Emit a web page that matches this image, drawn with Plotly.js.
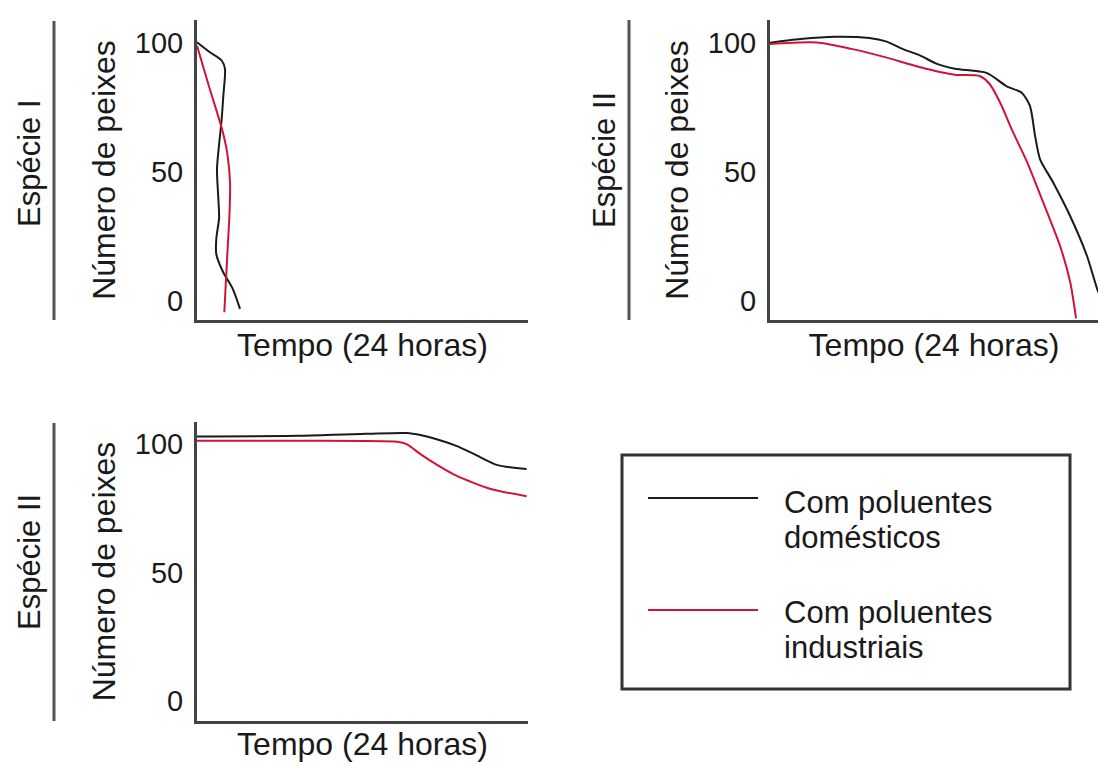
<!DOCTYPE html>
<html>
<head>
<meta charset="utf-8">
<script src="https://cdn.plot.ly/plotly-3.0.1.min.js"></script>
<style>
  html, body { margin: 0; padding: 0; background: #ffffff; }
  #chart { width: 1098px; height: 762px; }
</style>
</head>
<body>
<div id="chart"></div>
<script>
// ---------- data ----------
const seriesNames = ['Com poluentes<br>domésticos', 'Com poluentes<br>industriais'];
const speciesLabels = ['Espécie I', 'Espécie II', 'Espécie II'];
const xAxisTitle = 'Tempo (24 horas)';
const yAxisTitle = 'Número de peixes';
const yTickVals = [0, 50, 100];
const yTickText = ['0', '50', '100'];

// Espécie I (top left)
const esp1DomHours = [0, 0.94, 1.79, 2.03, 1.91, 1.79, 1.45, 1.55, 1.6, 1.4, 1.4, 1.9, 2.6, 3.12];
const esp1DomFish  = [100.2, 96.3, 93.1, 89.8, 79.5, 70.4, 51.1, 39.4, 32, 24, 18, 11, 4.5, -3.2];
const esp1IndHours = [0, 0.9, 1.81, 2.2, 2.4, 2.35, 2.2, 1.98];
const esp1IndFish  = [98.8, 82.5, 66.6, 57, 45, 33, 18, -4.5];

// Espécie II (top right)
const esp2aDomHours = [0, 2.2, 4.7, 7.2, 8.4, 9.6, 10.9, 12.1, 13.4, 15.7, 17.16, 18.25, 18.85, 19.22, 19.58, 20.52, 21.75, 22.97, 23.79, 24.3];
const esp2aDomFish  = [100, 101.4, 102.3, 101.8, 100.5, 97.6, 95, 91.8, 89.9, 88.3, 83.1, 80.6, 75.4, 63.8, 54.8, 45.9, 32.9, 17.5, 3.5, -2];
const esp2aIndHours = [0, 3.4, 5.9, 8.4, 10.9, 13.4, 15.23, 15.95, 16.68, 17.62, 18.64, 19.8, 21.03, 21.76, 22.19];
const esp2aIndFish  = [99.5, 100.1, 97.6, 94.3, 90.5, 87.6, 87.0, 83.8, 76.8, 65.3, 53.7, 38.2, 21.2, 7.3, -6.9];

// Espécie II (bottom left)
const esp2bDomHours = [0, 7.3, 11.2, 15.2, 16.2, 17.5, 18.8, 20.1, 21.8, 23.9];
const esp2bDomFish  = [103, 103.2, 103.8, 104.3, 103.5, 101.7, 99.3, 96.1, 91.8, 90.3];
const esp2bIndHours = [0, 7.3, 14.5, 15.2, 16.2, 17.5, 18.8, 21.3, 23.9];
const esp2bIndFish  = [101.3, 101.3, 100.9, 100, 96.1, 91.6, 87.7, 82.5, 79.7];

// ---------- styles ----------
const W = 1098, H = 762;
const domColor = '#1a1a1a';
const indColor = '#cf1437';
const axisColor = '#444444';
const textColor = '#1a1a1a';
const FONT = "'Liberation Sans', Arial, Helvetica, sans-serif";
const px = (v) => v / W;
const py = (v) => 1 - v / H;

function line(x, y, color, xa, ya, name) {
  return {
    type: 'scatter', mode: 'lines', x: x, y: y, name: name,
    xaxis: xa, yaxis: ya,
    line: { color: color, width: 2, shape: 'spline', smoothing: 0.7 },
    showlegend: false, hoverinfo: 'skip'
  };
}

const traces = [
  line(esp1DomHours, esp1DomFish, domColor, 'x', 'y', seriesNames[0]),
  line(esp1IndHours, esp1IndFish, indColor, 'x', 'y', seriesNames[1]),
  line(esp2aDomHours, esp2aDomFish, domColor, 'x2', 'y2', seriesNames[0]),
  line(esp2aIndHours, esp2aIndFish, indColor, 'x2', 'y2', seriesNames[1]),
  line(esp2bDomHours, esp2bDomFish, domColor, 'x3', 'y3', seriesNames[0]),
  line(esp2bIndHours, esp2bIndFish, indColor, 'x3', 'y3', seriesNames[1])
];

function xAx(domain, range, anchor) {
  return {
    domain: domain, range: range, anchor: anchor,
    showline: true, linecolor: axisColor, linewidth: 3,
    showgrid: false, zeroline: false, showticklabels: false, ticks: '',
    fixedrange: true,
    title: { text: xAxisTitle, font: { size: 32, color: textColor, family: FONT }, standoff: 12 }
  };
}
function yAx(domain, range, anchor) {
  return {
    domain: domain, range: range, anchor: anchor,
    showline: true, linecolor: axisColor, linewidth: 3,
    showgrid: false, zeroline: false, ticks: '',
    tickmode: 'array', tickvals: yTickVals, ticktext: yTickText,
    ticklabelstandoff: 5,
    tickfont: { size: 29, color: textColor, family: FONT },
    fixedrange: true,
    title: { text: yAxisTitle, font: { size: 32, color: textColor, family: FONT }, standoff: 10 }
  };
}

const topDomain = [py(320), py(20)];
const botDomain = [py(721), py(422)];

// legend entries: each name split into its two printed lines
const legendRows = [
  { name: seriesNames[0], color: domColor, sampleY: 498, lineYs: [502, 537] },
  { name: seriesNames[1], color: indColor, sampleY: 610, lineYs: [612, 647] }
];

const shapes = [
  // species separators
  { type: 'line', xref: 'paper', yref: 'paper', x0: px(54), x1: px(54), y0: py(21), y1: py(320), line: { color: '#555', width: 3 } },
  { type: 'line', xref: 'paper', yref: 'paper', x0: px(629), x1: px(629), y0: py(20), y1: py(320), line: { color: '#555', width: 3 } },
  { type: 'line', xref: 'paper', yref: 'paper', x0: px(54), x1: px(54), y0: py(423), y1: py(721), line: { color: '#555', width: 3 } },
  // legend box
  { type: 'rect', xref: 'paper', yref: 'paper', x0: px(622), x1: px(1070), y0: py(689), y1: py(455), line: { color: '#333', width: 3 }, fillcolor: 'rgba(0,0,0,0)' }
];
const annotations = [
  { xref: 'paper', yref: 'paper', x: px(29), y: py(163), text: speciesLabels[0], textangle: -90, showarrow: false, xanchor: 'center', yanchor: 'middle', font: { size: 31, color: textColor, family: FONT } },
  { xref: 'paper', yref: 'paper', x: px(604), y: py(160), text: speciesLabels[1], textangle: -90, showarrow: false, xanchor: 'center', yanchor: 'middle', font: { size: 31, color: textColor, family: FONT } },
  { xref: 'paper', yref: 'paper', x: px(29), y: py(562), text: speciesLabels[2], textangle: -90, showarrow: false, xanchor: 'center', yanchor: 'middle', font: { size: 31, color: textColor, family: FONT } }
];
legendRows.forEach(function (r) {
  shapes.push({ type: 'line', xref: 'paper', yref: 'paper', x0: px(648), x1: px(758), y0: py(r.sampleY), y1: py(r.sampleY), line: { color: r.color, width: 2.2 } });
  r.name.split('<br>').forEach(function (txt, i) {
    annotations.push({ xref: 'paper', yref: 'paper', x: px(782), y: py(r.lineYs[i]), text: txt, showarrow: false, xanchor: 'left', yanchor: 'middle', font: { size: 31, color: textColor, family: FONT } });
  });
});

const layout = {
  width: W, height: H,
  margin: { l: 0, r: 0, t: 0, b: 0 },
  paper_bgcolor: '#ffffff', plot_bgcolor: '#ffffff',
  font: { family: FONT, color: textColor },
  showlegend: false,
  xaxis:  xAx([px(197), px(528)], [0, 24], 'y'),
  yaxis:  yAx(topDomain, [-7.5, 108.8], 'x'),
  xaxis2: xAx([px(770), 1], [0, 23.78], 'y2'),
  yaxis2: yAx(topDomain, [-7.5, 108.8], 'x2'),
  xaxis3: xAx([px(197), px(528)], [0, 24], 'y3'),
  yaxis3: yAx(botDomain, [-7.8, 108.6], 'x3'),
  shapes: shapes,
  annotations: annotations
};

Plotly.newPlot('chart', traces, layout, { staticPlot: true, displayModeBar: false });
</script>
</body>
</html>
